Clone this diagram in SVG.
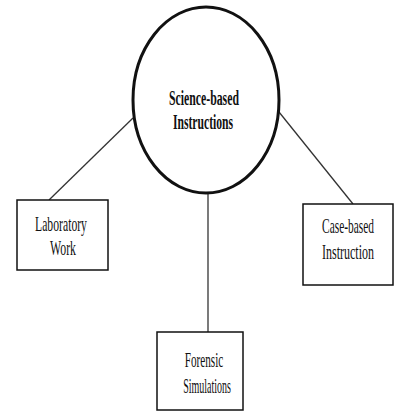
<svg xmlns="http://www.w3.org/2000/svg" width="396" height="412" viewBox="0 0 396 412">
<style>
.t{font-family:"Liberation Serif","Times New Roman",serif;font-size:20px;fill:#111;text-anchor:middle}
.b{font-weight:bold;font-size:22px}
.box{fill:#fff;stroke:#111;stroke-width:1.5}
.c{stroke:#333;stroke-width:1.3;fill:none}
</style>
<rect width="396" height="412" fill="#fff"/>
<g id="connectors">
<line class="c" x1="133" y1="118" x2="49" y2="200"/>
<line class="c" x1="279" y1="112" x2="353" y2="204"/>
<line class="c" x1="208" y1="193" x2="208" y2="332"/>
</g>
<g id="center">
<ellipse cx="206" cy="100" rx="73" ry="93" fill="#fff" stroke="#111" stroke-width="3"/>
<text class="t b" transform="translate(204,105) scale(0.535,1)">Science-based</text>
<text class="t b" transform="translate(203,129) scale(0.53,1)">Instructions</text>
</g>
<g id="lab">
<rect class="box" x="17" y="200" width="91" height="70"/>
<text class="t" transform="translate(61,231) scale(0.585,1)">Laboratory</text>
<text class="t" transform="translate(63,255) scale(0.59,1)">Work</text>
</g>
<g id="case">
<rect class="box" x="303" y="204" width="90" height="81"/>
<text class="t" transform="translate(348,233) scale(0.57,1)">Case-based</text>
<text class="t" transform="translate(348,259) scale(0.6,1)">Instruction</text>
</g>
<g id="forensic">
<rect class="box" x="157" y="332" width="86" height="78"/>
<text class="t" transform="translate(204,367) scale(0.56,1)">Forensic</text>
<text class="t" transform="translate(207,393) scale(0.5,1)">Simulations</text>
</g>
</svg>
